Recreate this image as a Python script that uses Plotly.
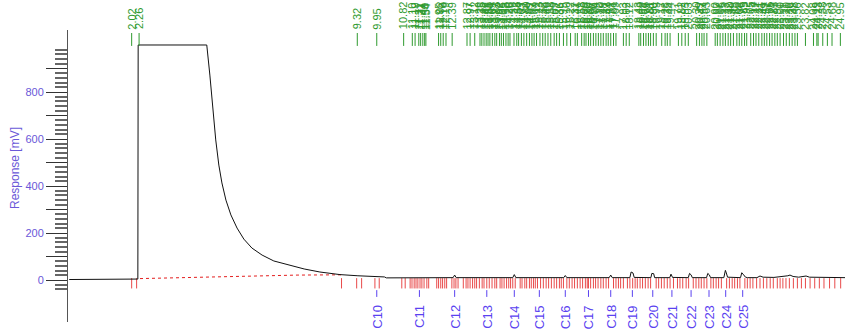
import plotly.graph_objects as go

# ---------------- data ----------------
# chromatogram trace (time in min, response in mV)
trace_t = [0.00, 1.98, 2.02, 2.08, 2.18, 2.22, 2.23, 4.45, 4.55, 4.65, 4.74, 4.84,
           4.94, 5.07, 5.23, 5.43, 5.65, 5.91, 6.24, 6.62, 7.08, 7.60, 8.11, 8.76,
           9.34, 9.92, 10.20, 10.26,
           12.42, 12.47, 12.52,
           14.35, 14.40, 14.45,
           16.00, 16.05, 16.10,
           17.47, 17.52, 17.57,
           18.14, 18.18, 18.24, 18.28,
           18.82, 18.85, 18.91, 18.94,
           19.43, 19.47, 19.52,
           20.03, 20.07, 20.12, 20.16,
           20.62, 20.66, 20.71, 20.75,
           21.18, 21.23, 21.26, 21.30,
           21.72, 21.76, 21.82, 21.88, 21.95,
           22.25, 22.35, 22.45,
           22.80, 23.00, 23.25, 23.32, 23.42, 23.60,
           23.84, 23.95, 24.30, 24.70, 25.10]
trace_v = [2, 2, 4, 3, 3, 4, 1000, 1000, 872, 723, 596, 489,
           413, 340, 277, 221, 174, 136, 106, 81, 64, 47, 34, 23,
           18, 15, 13, 9,
           10, 21, 10,
           10, 23, 10,
           10, 19, 10,
           10, 21, 10,
           10, 34, 30, 11,
           10, 28, 27, 10,
           10, 25, 11,
           10, 28, 22, 10,
           10, 28, 22, 10,
           10, 41, 30, 12,
           10, 31, 22, 12, 10,
           10, 17, 12,
           11, 13, 18, 21, 15, 12,
           17, 12, 11, 10, 10]

# computed baseline (red dotted)
base_t = [2.29, 3.50, 4.80, 6.00, 7.40, 8.81]
base_v = [6, 10, 14, 18, 21, 22]

# detected peak apex times (green labels)
peak_times = [2.02, 2.26, 9.32, 9.95, 10.82, 11.10, 11.19, 11.31, 11.37, 11.44, 11.50,
              11.54, 11.95, 12.02, 12.10, 12.19, 12.39, 12.87, 12.97, 13.12, 13.29,
              13.35, 13.42, 13.49, 13.55, 13.61, 13.69, 13.77, 13.83, 13.92, 13.98,
              14.05, 14.13, 14.20, 14.26, 14.39, 14.48, 14.54, 14.63, 14.71, 14.80,
              14.89, 14.97, 15.04, 15.12, 15.23, 15.32, 15.40, 15.49, 15.58, 15.69,
              15.77, 15.86, 15.99, 16.10, 16.22, 16.37, 16.44, 16.58, 16.66, 16.72,
              16.80, 16.87, 16.96, 17.04, 17.12, 17.20, 17.28, 17.37, 17.44, 17.52,
              17.61, 17.69, 17.93, 18.02, 18.12, 18.43, 18.49, 18.58, 18.66, 18.74,
              18.81, 18.90, 18.99, 19.17, 19.28, 19.35, 19.44, 19.71, 19.82, 19.93,
              20.03, 20.30, 20.39, 20.47, 20.54, 20.63, 20.90, 20.97, 21.06, 21.15,
              21.23, 21.32, 21.40, 21.49, 21.60, 21.68, 21.76, 21.85, 21.92, 22.05,
              22.14, 22.22, 22.31, 22.41, 22.49, 22.57, 22.66, 22.74, 22.83, 22.91,
              23.00, 23.11, 23.20, 23.30, 23.39, 23.48, 23.56, 23.82, 24.08, 24.19,
              24.23, 24.38, 24.53, 24.68, 24.95]

# peak start / end marks (red)
bound_times = [2.02, 2.18, 8.81, 9.30, 9.46, 9.89, 10.03, 10.76, 10.87, 11.03, 11.09,
               11.16, 11.22, 11.28, 11.35, 11.41, 11.48, 11.57, 11.63, 11.89, 11.95,
               12.02, 12.08, 12.15, 12.21, 12.38, 12.45, 12.51, 12.58, 12.75, 12.84,
               12.90, 12.97, 13.05, 13.12, 13.18, 13.27, 13.36, 13.42, 13.51, 13.59,
               13.68, 13.77, 13.83, 13.94, 14.00, 14.07, 14.15, 14.22, 14.28, 14.35,
               14.43, 14.59, 14.65, 14.74, 14.80, 14.89, 14.95, 15.02, 15.08, 15.15,
               15.25, 15.34, 15.43, 15.51, 15.60, 15.69, 15.77, 15.86, 15.92, 15.99,
               16.10, 16.18, 16.27, 16.35, 16.44, 16.53, 16.61, 16.70, 16.76, 16.80,
               16.87, 16.96, 17.03, 17.11, 17.20, 17.28, 17.37, 17.45, 17.61, 17.69,
               17.77, 17.84, 17.93, 18.06, 18.14, 18.23, 18.31, 18.38, 18.47, 18.55,
               18.64, 18.73, 18.81, 18.99, 19.07, 19.16, 19.25, 19.35, 19.44, 19.55,
               19.68, 19.76, 19.85, 19.96, 20.04, 20.19, 20.28, 20.37, 20.45, 20.54,
               20.63, 20.76, 20.84, 20.93, 21.01, 21.10, 21.27, 21.36, 21.45, 21.53,
               21.62, 21.70, 21.86, 21.94, 22.03, 22.12, 22.24, 22.35, 22.46, 22.57,
               22.68, 22.78, 22.91, 23.00, 23.09, 23.19, 23.30, 23.43, 23.56, 23.69,
               23.82, 23.97, 24.12, 24.27, 24.42, 24.60, 24.77, 24.96]

# identified n-alkanes (blue labels)
c_names = ["C10", "C11", "C12", "C13", "C14", "C15", "C16", "C17", "C18", "C19",
           "C20", "C21", "C22", "C23", "C24", "C25"]
c_times = [9.95, 11.33, 12.47, 13.51, 14.40, 15.21, 16.05, 16.80, 17.52, 18.22,
           18.88, 19.50, 20.12, 20.70, 21.24, 21.79]

y_labels = ["0", "", "200", "", "400", "", "600", "", "800", ""]
y_major = [0, 100, 200, 300, 400, 500, 600, 700, 800, 900]

# ---------------- layout constants ----------------
W, H = 845, 334
ML, MR, MT, MB = 68, 0, 30, 12
PH = H - MT - MB
YMIN, YMAX = -178.7, 1063.8
FONT = "Liberation Sans, Arial, sans-serif"
GREEN = "#2f9a2f"
RED = "#e41e1e"
BLUE_TXT = "#6a58d8"
C_BLUE = "#5a42f0"


def ypaper(px):
    """window pixel row -> paper y"""
    return (H - MB - px) / PH


def xpaper(px):
    """window pixel column -> paper x"""
    return (px - ML) / (W - ML - MR)


def segs(times, v0, v1):
    xs, ys = [], []
    for t in times:
        xs += [t, t, None]
        ys += [v0, v1, None]
    return xs, ys


fig = go.Figure()

# red peak-boundary marks
bx, by = segs(bound_times, 8, -36)
fig.add_trace(go.Scatter(x=bx, y=by, mode="lines",
                         line=dict(color=RED, width=1), opacity=0.8,
                         hoverinfo="skip"))

# red dotted baseline
fig.add_trace(go.Scatter(x=base_t, y=base_v, mode="lines",
                         line=dict(color=RED, width=1, dash="dot"),
                         hoverinfo="skip"))

# chromatogram
fig.add_trace(go.Scatter(x=trace_t, y=trace_v, mode="lines",
                         line=dict(color="#111111", width=1)))

# green peak ticks
gx, gy = segs(peak_times, 996, 1051)
fig.add_trace(go.Scatter(x=gx, y=gy, mode="lines",
                         line=dict(color=GREEN, width=1), cliponaxis=False,
                         hoverinfo="skip"))

# blue alkane ticks
cx, cy = segs(c_times, -43, -72)
fig.add_trace(go.Scatter(x=cx, y=cy, mode="lines",
                         line=dict(color=C_BLUE, width=1), hoverinfo="skip"))

annotations = []
for t in peak_times:
    annotations.append(dict(x=t, xref="x", y=ypaper(31.5), yref="paper",
                            text=f"{t:.2f}", textangle=-90, showarrow=False,
                            xanchor="center", yanchor="bottom",
                            font=dict(family=FONT, size=11, color=GREEN)))
for name, t in zip(c_names, c_times):
    annotations.append(dict(x=t, xref="x", y=ypaper(303), yref="paper",
                            text=name, textangle=-90, showarrow=False,
                            xanchor="center", yanchor="top",
                            font=dict(family=FONT, size=13, color=C_BLUE)))
annotations.append(dict(x=xpaper(15), xref="paper", y=ypaper(168), yref="paper",
                        text="Response [mV]", textangle=-90, showarrow=False,
                        xanchor="center", yanchor="middle",
                        font=dict(family=FONT, size=12, color=BLUE_TXT)))

minor_vals = [v for v in range(-40, 1000, 20) if v % 100 != 0]

fig.update_layout(
    template="none",
    width=W, height=H, autosize=False,
    margin=dict(l=ML, r=MR, t=MT, b=MB, pad=0, autoexpand=False),
    paper_bgcolor="white", plot_bgcolor="white",
    showlegend=False,
    hovermode=False,
    annotations=annotations,
    xaxis=dict(range=[-0.04, 25.10], visible=False, fixedrange=True,
               automargin=False),
    yaxis=dict(range=[YMIN, YMAX], showgrid=False, zeroline=False,
               automargin=False,
               showline=True, linecolor="#555555", linewidth=1,
               tickmode="array", tickvals=y_major, ticktext=y_labels,
               ticks="outside", ticklen=21, tickwidth=1, tickcolor="#333333",
               tickfont=dict(family=FONT, size=11, color=BLUE_TXT),
               minor=dict(tickmode="array", tickvals=minor_vals, ticks="outside",
                          ticklen=12, tickwidth=2, tickcolor="#666666",
                          showgrid=False),
               fixedrange=True),
)

fig.write_html(
    "out.html",
    config={"displayModeBar": False, "staticPlot": True},
    post_script="document.body.style.margin='0';document.body.style.padding='0';",
)
